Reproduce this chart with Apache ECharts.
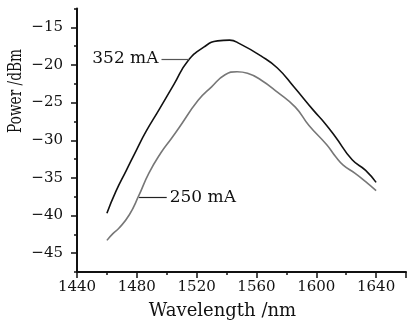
<!DOCTYPE html>
<html>
<head>
<meta charset="utf-8">
<style>
  html, body { margin: 0; padding: 0; background: #fff; }
  #chart { width: 409px; height: 326px; }
</style>
<script src="https://cdn.jsdelivr.net/npm/echarts@6/dist/echarts.min.js"></script>
</head>
<body>
<div id="chart"></div>
<script>
// Data
const wl352 = [1460, 1466, 1473, 1480, 1486, 1495, 1505, 1514, 1525, 1534, 1542, 1549, 1563, 1574, 1585, 1598, 1606, 1613, 1624, 1633, 1640];
const pw352 = [-39.7, -36.8, -34.0, -31.2, -28.9, -25.9, -22.5, -19.5, -17.6, -16.8, -16.7, -17.2, -18.8, -20.4, -22.9, -26.0, -27.8, -29.6, -32.6, -34.0, -35.6];
const wl250 = [1460, 1464, 1468, 1475, 1481, 1488, 1496, 1503, 1508, 1521, 1530, 1539, 1547, 1554, 1563, 1574, 1586, 1595, 1607, 1613, 1618, 1626, 1633, 1640];
const pw250 = [-43.3, -42.4, -41.7, -39.9, -37.5, -34.4, -31.7, -29.8, -28.4, -24.7, -22.9, -21.3, -20.9, -21.1, -22.0, -23.6, -25.6, -28.0, -30.6, -32.2, -33.3, -34.4, -35.5, -36.7];
const yMajorTicks = [-45, -40, -35, -30, -25, -20, -15];
const yMinorTicks = [-47.5, -42.5, -37.5, -32.5, -27.5, -22.5, -17.5, -12.5];
const seriesNames = ['352 mA', '250 mA'];
const xTitle = 'Wavelength /nm';
const yTitle = 'Power /dBm';

const toPairs = (xs, ys) => xs.map((x, i) => [x, ys[i]]);
const FONT = 'DejaVu Serif';
const AXC = '#111';

const chart = echarts.init(document.getElementById('chart'), null, { renderer: 'canvas' });
chart.setOption({
  animation: false,
  backgroundColor: '#fff',
  grid: { left: 77, top: 8.5, right: -3, bottom: 54, containLabel: false },
  xAxis: {
    type: 'value', min: 1440, max: 1660, interval: 40,
    name: xTitle, nameLocation: 'middle', nameGap: 30,
    nameTextStyle: { fontFamily: FONT, fontSize: 18, color: '#111', padding: [0, 38, 0, 0] },
    axisLine: { lineStyle: { color: AXC, width: 2 } },
    axisTick: { length: 6, lineStyle: { color: AXC, width: 1.5 } },
    minorTick: { show: true, splitNumber: 2, length: 3, lineStyle: { color: AXC, width: 1.5 } },
    axisLabel: { fontFamily: FONT, fontSize: 15, color: '#111', margin: 8,
      formatter: v => (v <= 1640 ? String(v) : '') },
    splitLine: { show: false }
  },
  yAxis: [{
    type: 'value', min: -47.5, max: -12.5,
    axisLine: { lineStyle: { color: AXC, width: 2 } },
    axisTick: { length: 6, customValues: yMajorTicks, lineStyle: { color: AXC, width: 1.5 } },
    axisLabel: { fontFamily: FONT, fontSize: 15, color: '#111', margin: 14, customValues: yMajorTicks,
      formatter: v => String(v).replace('-', '\u2212') },
    splitLine: { show: false }
  }, {
    type: 'value', min: -47.5, max: -12.5, position: 'left',
    axisLine: { show: false },
    axisTick: { length: 3, customValues: yMinorTicks, lineStyle: { color: AXC, width: 1.5 } },
    axisLabel: { show: false },
    splitLine: { show: false }
  }],
  graphic: [{
    type: 'text', x: 7, y: 133, rotation: Math.PI / 2, scaleX: 0.72, scaleY: 1,
    style: { text: yTitle, font: '19px "DejaVu Serif"', fill: '#111',
      textAlign: 'left', textVerticalAlign: 'top' }
  }],
  series: [{
    name: seriesNames[0], type: 'line', data: toPairs(wl352, pw352),
    showSymbol: false, smooth: 0.5, lineStyle: { color: '#111', width: 1.6 },
    markLine: {
      silent: true, symbol: 'none',
      lineStyle: { color: '#555', width: 1.2, type: 'solid' },
      label: { show: true, position: 'end', distance: 3, formatter: seriesNames[0],
        fontFamily: FONT, fontSize: 17, color: '#111' },
      data: [[{ coord: [1515, -19.2] }, { coord: [1496.5, -19.2] }]]
    }
  }, {
    name: seriesNames[1], type: 'line', data: toPairs(wl250, pw250),
    showSymbol: false, smooth: 0.5, lineStyle: { color: '#777', width: 1.6 },
    markLine: {
      silent: true, symbol: 'none',
      lineStyle: { color: '#222', width: 1.2, type: 'solid' },
      label: { show: true, position: 'end', distance: 3, formatter: seriesNames[1],
        fontFamily: FONT, fontSize: 17, color: '#111' },
      data: [[{ coord: [1481.5, -37.6] }, { coord: [1500, -37.6] }]]
    }
  }]
});
</script>
</body>
</html>
